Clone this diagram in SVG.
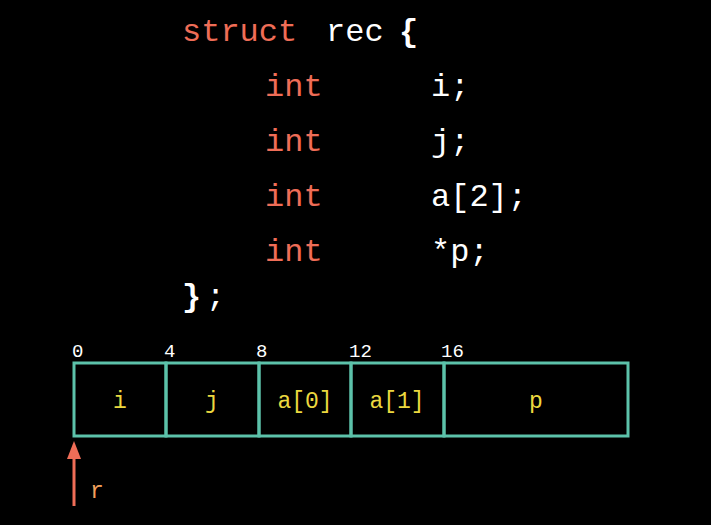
<svg xmlns="http://www.w3.org/2000/svg" width="711" height="525" viewBox="0 0 711 525">
<defs>
<style>
text{font-family:"Liberation Mono","Courier New","DejaVu Sans Mono",monospace}
.kw{fill:#ef6d57;font-size:32px}
.cd{fill:#ffffff;font-size:32px}
.off{fill:#ffffff;font-size:19px}
.lbl{fill:#ecd83f;font-size:23px;text-anchor:middle}
.cell{fill:none;stroke:#5cc2aa;stroke-width:3}
</style>
</defs>
<rect width="711" height="525" fill="#000"/>
<g id="code">
<text x="182" y="41" class="kw">struct</text>
<text x="326" y="41" class="cd">rec</text>
<text x="399" y="41" class="cd" font-weight="bold">{</text>
<text x="265" y="96" class="kw">int</text><text x="431" y="96" class="cd">i;</text>
<text x="265" y="151" class="kw">int</text><text x="431" y="151" class="cd">j;</text>
<text x="265" y="206" class="kw">int</text><text x="431" y="206" class="cd">a[2];</text>
<text x="265" y="261" class="kw">int</text><text x="431" y="261" class="cd">*p;</text>
<text x="182" y="306" class="cd" font-weight="bold">}</text><text x="206" y="306" class="cd">;</text>
</g>
<g id="offsets">
<text x="72" y="357" class="off">0</text>
<text x="164" y="357" class="off">4</text>
<text x="256" y="357" class="off">8</text>
<text x="349" y="357" class="off">12</text>
<text x="441" y="357" class="off">16</text>
</g>
<g id="cell-i"><rect x="74" y="363" width="92" height="73" class="cell"/><text x="120" y="408" class="lbl">i</text></g>
<g id="cell-j"><rect x="166" y="363" width="93" height="73" class="cell"/><text x="212" y="408" class="lbl">j</text></g>
<g id="cell-a0"><rect x="259" y="363" width="92" height="73" class="cell"/><text x="305" y="408" class="lbl">a[0]</text></g>
<g id="cell-a1"><rect x="351" y="363" width="93" height="73" class="cell"/><text x="397" y="408" class="lbl">a[1]</text></g>
<g id="cell-p"><rect x="444" y="363" width="184" height="73" class="cell"/><text x="536" y="408" class="lbl">p</text></g>
<g id="connectors">
<line x1="74" y1="506" x2="74" y2="456" stroke="#ef6d57" stroke-width="3"/>
<polygon points="74,441 67,459 81,459" fill="#ef6d57"/>
</g>
<g id="pointer-r"><text x="90" y="498" fill="#f2a05c" font-size="23px">r</text></g>
</svg>
